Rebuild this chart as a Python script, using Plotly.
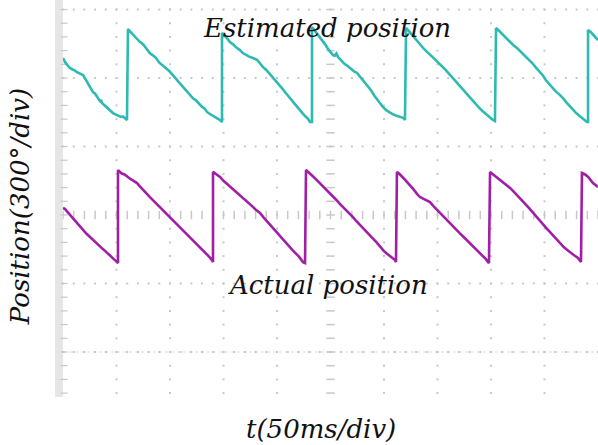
import numpy as np
import plotly.graph_objects as go

# ---- data ----
# time in ms (50 ms/div), position in degrees (300 deg/div) relative to channel marker
est_t = [0, 2, 4.5, 6.5, 9, 11, 13, 15.5, 18.7, 21, 23.5, 26, 28, 30, 32, 33.5, 34.5, 35.5, 36.4,
         39, 41.5, 44, 46.7, 49, 51.5, 54, 56, 57.9, 59.8,
         60.7, 62.5, 64.5, 67, 69.5, 72, 75, 78, 81.3, 84, 87, 90, 93, 96, 99.5, 102.8, 105.5,
         108, 111, 114, 116.5, 118.7, 121.5, 124, 127, 130, 132.5, 134.6, 137, 139.5, 142, 144.5,
         146.7, 148.6,
         148.6, 150.5, 153, 156, 159, 162, 165.4, 168, 171, 174, 177.5, 181.3, 184, 187, 190, 193,
         196.3, 199, 202, 205, 208, 210, 212.1, 215, 218, 221, 224, 226.5, 229, 230.8, 232.7,
         232.7, 234.5, 237, 239.5, 242, 245, 248, 250, 252.3, 254, 255.5, 257, 260, 263, 266,
         269.5, 272, 274.8, 276.5, 279, 282, 285, 288, 291, 293.5, 296.3, 299, 302, 305, 308,
         311, 314, 317.8, 319.6,
         320.6, 322.5, 325, 328, 331, 334, 337, 340.2, 343, 346, 349, 352, 355, 358, 361.7,
         364.5, 367, 370, 373, 376.5, 380.4, 383, 386, 389, 392, 395, 398, 401.9, 403.7,
         404.7, 406.5, 409, 412, 415, 418, 421, 424.3, 427, 430, 433, 436, 439, 442, 445.8,
         448.5, 451, 454, 457, 460, 463.5, 467.3, 470, 473, 476, 479, 482, 485, 487.5, 489.7,
         490.7, 490.7, 493, 496, 500]
est_deg = [280, 262, 247, 237, 230, 226, 218, 214, 206, 188, 168, 148, 131, 124, 112, 100, 92, 97, 83,
           72, 60, 48, 39, 33, 27, 22, 24, 18, 9,
           407, 398, 386, 378, 362, 350, 340, 322, 301, 292, 280, 260, 246, 236, 222, 206, 190,
           176, 160, 146, 130, 118, 104, 96, 80, 66, 58, 44, 36, 30, 22, 15,
           9, 0,
           390, 382, 368, 350, 340, 326, 315, 302, 293, 286, 280, 272, 258, 240, 228, 212,
           197, 180, 165, 146, 128, 118, 105, 88, 70, 55, 38, 25, 14, 0, 0,
           416, 405, 392, 378, 362, 340, 318, 305, 293, 290, 300, 285, 268, 255, 245,
           230, 222, 215, 205, 195, 178, 158, 138, 115, 98, 83, 66, 52, 42, 35,
           28, 24, 18, 9,
           412, 402, 388, 370, 352, 338, 322, 307, 296, 282, 268, 252, 240, 226, 206,
           190, 176, 160, 145, 128, 105, 92, 76, 62, 48, 35, 24, 9, 4,
           412, 404, 392, 375, 362, 348, 336, 324, 312, 300, 286, 272, 256, 238, 219,
           204, 185, 168, 150, 136, 122, 105, 88, 72, 56, 42, 30, 18, 10, 0,
           0, 403, 395, 378, 359]
act_t = [0, 2, 4.5, 7, 10, 13.1, 16, 19, 22, 25, 28, 31, 34, 37, 40, 43, 46, 48.5, 50.5, 51.4,
         51.4, 53, 55, 57.5, 60, 63, 66, 69.2, 72, 75, 78, 81, 84, 87, 90, 93.5, 96.5, 99.5,
         102.5, 105.5, 109, 112, 115, 118.7, 121.5, 124.5, 127.5, 130.5, 133.5, 136.5, 139.3, 140.2,
         140.2, 142, 144.5, 147, 150, 153, 156, 159, 162.6, 165.5, 168.5, 171.5, 174.5, 177.5,
         180.5, 184.1, 187, 190, 193, 196, 199, 202, 205.6, 208.5, 211.5, 214.5, 217.5, 220.5,
         224.3, 226.2,
         227.1, 229, 231.5, 234, 237, 240, 243, 246.7, 249.5, 252.5, 255.5, 258.5, 262, 265, 268,
         271, 274, 277, 280, 283, 286, 289.5, 293.5, 296.5, 299.5, 302.5, 305.5, 308, 310.3, 311.2,
         312.1, 314, 316.5, 319, 322, 325, 328, 331, 333.6, 336.5, 340, 343, 346, 349, 352.3,
         355.5, 358.5, 361.7, 364.5, 367.5, 370.5, 374, 377, 380.4, 383.5, 386.5, 389.5, 392.5,
         395, 397.2, 398.1,
         399.1, 401, 403.5, 406, 409, 412, 415, 417.8, 421, 424, 427, 430, 433, 436, 439.3, 442.5,
         445.5, 448.5, 451.5, 455, 458, 461.7, 465, 468, 471, 474, 477, 481.3, 484.1,
         485, 488, 491, 495.3, 500]
act_deg = [241, 236, 222, 208, 192, 175, 160, 145, 128, 115, 101, 88, 76, 62, 50, 38, 25, 15, 4, 0,
           407, 400, 392, 388, 378, 368, 360, 350, 335, 322, 305, 290, 276, 262, 248, 232, 216, 200,
           186, 172, 158, 142, 130, 114, 98, 84, 70, 56, 42, 28, 13, 4,
           399, 392, 385, 376, 360, 348, 334, 322, 307, 296, 284, 270, 258, 246,
           232, 219, 202, 186, 168, 152, 138, 118, 101, 86, 70, 56, 42, 28,
           4, 0,
           407, 400, 390, 378, 364, 350, 336, 320, 305, 290, 276, 260, 244, 228, 214,
           201, 184, 170, 154, 140, 124, 108, 88, 70, 54, 42, 30, 22, 13, 4,
           399, 392, 382, 368, 352, 338, 320, 302, 289, 282, 274, 267, 250, 235, 219,
           205, 190, 175, 160, 146, 132, 116, 102, 88, 72, 58, 44, 30,
           18, 4, 0,
           399, 392, 384, 372, 360, 352, 340, 329, 314, 300, 284, 270, 254, 238, 219, 204,
           188, 170, 154, 136, 120, 101, 86, 70, 58, 46, 36, 22, 4,
           394, 388, 376, 350, 333]
est_ref_div = 1.358    # cyan channel marker level (div from screen centre)
act_ref_div = -0.701   # purple channel marker level
ch3_t = [0, 500]
ch3_div = [-2.0, -2.0]

MS_PER_DIV = 50
DEG_PER_DIV = 300
Y_RANGE = [-2.628, 3.139]

CYAN = "#2dbab2"
PURPLE = "#a01fa6"
GRID = "#c8c8c8"

fig = go.Figure()

# ---- oscilloscope graticule ----
hx, hy = [], []
for j in [-2, -1, 1, 2, 3]:
    for t in np.arange(0, 501, 10):
        hx.append(t); hy.append(j)
vx, vy = [], []
for k in range(1, 10):
    if k == 5:
        continue
    for y in np.arange(-2.6, 3.2, 0.2):
        vx.append(k * MS_PER_DIV); vy.append(y)
fig.add_trace(go.Scatter(x=hx + vx, y=hy + vy, mode="markers",
                         marker=dict(symbol="square", size=2, color=GRID),
                         hoverinfo="skip", showlegend=False))
cx = list(np.arange(0, 501, 10))
fig.add_trace(go.Scatter(x=cx, y=[0] * len(cx), mode="markers",
                         marker=dict(symbol="line-ns", size=6, color=GRID,
                                     line=dict(width=1.5, color=GRID)),
                         hoverinfo="skip", showlegend=False))
cy = list(np.arange(-2.6, 3.2, 0.2))
fig.add_trace(go.Scatter(x=[250] * len(cy), y=cy, mode="markers",
                         marker=dict(symbol="line-ew", size=6, color=GRID,
                                     line=dict(width=1.5, color=GRID)),
                         hoverinfo="skip", showlegend=False))
fig.add_trace(go.Scatter(x=[1] * len(cy), y=cy, mode="markers",
                         marker=dict(symbol="line-ew", size=5, color=GRID,
                                     line=dict(width=1.2, color=GRID)),
                         hoverinfo="skip", showlegend=False, cliponaxis=False))

fig.add_trace(go.Scatter(x=ch3_t, y=ch3_div, mode="lines",
                         line=dict(color="rgba(140,225,120,0.35)", width=1.5, dash="dot"),
                         hoverinfo="skip", showlegend=False))

# ---- waveforms ----
fig.add_trace(go.Scatter(x=est_t, y=[est_ref_div + d / DEG_PER_DIV for d in est_deg],
                         mode="lines", line=dict(color=CYAN, width=2.6),
                         name="Estimated position", showlegend=False))
fig.add_trace(go.Scatter(x=act_t, y=[act_ref_div + d / DEG_PER_DIV for d in act_deg],
                         mode="lines", line=dict(color=PURPLE, width=2.6),
                         name="Actual position", showlegend=False))
fig.add_trace(go.Scatter(x=[-5.6, -5.6], y=[est_ref_div, act_ref_div], mode="markers",
                         marker=dict(symbol="diamond", size=9, color=[CYAN, PURPLE]),
                         cliponaxis=False, hoverinfo="skip", showlegend=False))

fig.add_shape(type="rect", xref="paper", yref="paper", x0=-0.015, x1=0, y0=-0.005, y1=1,
              fillcolor="#e6e6e6", line=dict(width=0), layer="below")

FONT = dict(family="DejaVu Serif", size=26, color="#111111", style="italic")
common = dict(xref="paper", yref="paper", showarrow=False, font=FONT,
              xanchor="center", yanchor="middle")
fig.add_annotation(text="Estimated position", x=0.4935, y=0.929, **common)
fig.add_annotation(text="Actual position", x=0.495, y=0.278, **common)
fig.add_annotation(text="t(50ms/div)", x=0.483, y=-0.086, **common)
fig.add_annotation(text="Position(300°/div)", x=-0.0804, y=0.478, textangle=-90, **common)

fig.update_layout(
    width=598, height=445,
    margin=dict(l=63, r=0, t=0, b=50),
    paper_bgcolor="white", plot_bgcolor="white",
    xaxis=dict(range=[0, 500], showgrid=False, zeroline=False, showticklabels=False,
               showline=False, fixedrange=True),
    yaxis=dict(range=Y_RANGE, showgrid=False, zeroline=False, showticklabels=False,
               showline=False, fixedrange=True),
)

fig.write_html("out.html")
